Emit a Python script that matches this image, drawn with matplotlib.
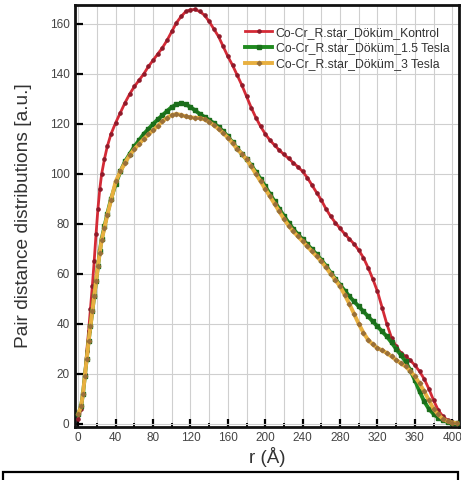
import numpy as np
import matplotlib
matplotlib.use('Agg')
import matplotlib.pyplot as plt
from matplotlib.patches import Rectangle

plt.rcParams['font.family'] = ['Liberation Sans', 'DejaVu Sans']

# Pair distance distributions, r in Angstrom

r_kontrol = [0, 3, 5, 7, 9, 11, 13, 15, 17, 19, 21, 23, 25, 28, 31, 35, 40, 45, 50, 55,
             60, 65, 70, 75, 80, 85, 90, 95, 100, 105, 110, 115, 120, 125, 130, 135, 140, 145,
             150, 155, 160, 165, 170, 175, 180, 185, 190, 195, 200, 205, 210, 215, 220, 225,
             230, 235, 240, 245, 250, 255, 260, 265, 270, 275, 280, 285, 290, 295, 300, 305,
             310, 315, 320, 325, 330, 335, 340, 345, 350, 355, 360, 365, 370, 375, 380, 385,
             390, 395, 400, 405]
p_kontrol = [2, 6, 12, 20, 29, 37, 46, 55, 65, 76, 86, 94, 100, 106, 111, 116, 120.5, 124.5, 128.5, 132,
             135, 137.5, 140, 143, 145.5, 148, 150.5, 153.5, 157, 160.5, 163, 165, 165.7, 165.8, 165, 163.5, 161, 158,
             155, 151, 147, 143.5, 139.5, 135.5, 131, 126.5, 122.5, 119, 116, 113.5, 111.5, 109.5, 107.8, 106.2,
             104.5, 102.8, 101, 98.5, 95.5, 92.5, 89.5, 86, 83, 80.5, 78.2, 76, 74, 72, 69.5, 66.5,
             62.5, 58, 53, 46.5, 40, 34.5, 31, 28.5, 27, 25.5, 23.5, 21, 18, 14, 9.5, 5.5,
             3, 1.5, 0.8, 0.5]

r_15 = [0, 3, 5, 7, 9, 11, 13, 15, 17, 19, 21, 23, 25, 28, 31, 35, 40, 45, 50, 55,
        60, 65, 70, 75, 80, 85, 90, 95, 100, 105, 110, 115, 120, 125, 130, 135, 140, 145,
        150, 155, 160, 165, 170, 175, 180, 185, 190, 195, 200, 205, 210, 215, 220, 225,
        230, 235, 240, 245, 250, 255, 260, 265, 270, 275, 280, 285, 290, 295, 300, 305,
        310, 315, 320, 325, 330, 335, 340, 345, 350, 355, 360, 365, 370, 375, 380, 385,
        390, 395, 400, 405]
p_15 = [4, 7, 12, 19, 26, 33, 39, 45, 51, 57, 63, 69, 74, 79, 84, 90, 96, 101, 105, 108,
        111, 113.5, 116, 118, 120, 121.8, 123.5, 125.2, 126.8, 127.8, 128.2, 127.8, 126.8, 125.4, 124, 122.8, 121.6, 120.3,
        118.8, 117, 115, 112.6, 110.2, 108, 105.8, 103.4, 100.8, 98, 95, 92, 89, 86, 83.2, 80.5,
        78, 75.8, 73.8, 71.8, 69.8, 67.8, 65.6, 63.2, 60.5, 58, 55.6, 53.3, 51, 49, 47, 45,
        43, 41, 39, 37, 35, 32.6, 30, 27.6, 25, 21.5, 17.5, 13, 9, 6, 4, 2.5,
        1.5, 0.8, 0.5, 0.3]

r_3 = [0, 3, 5, 7, 9, 11, 13, 15, 17, 19, 21, 23, 25, 28, 31, 35, 40, 45, 50, 55,
       60, 65, 70, 75, 80, 85, 90, 95, 100, 105, 110, 115, 120, 125, 130, 135, 140, 145,
       150, 155, 160, 165, 170, 175, 180, 185, 190, 195, 200, 205, 210, 215, 220, 225,
       230, 235, 240, 245, 250, 255, 260, 265, 270, 275, 280, 285, 290, 295, 300, 305,
       310, 315, 320, 325, 330, 335, 340, 345, 350, 355, 360, 365, 370, 375, 380, 385,
       390, 395, 400, 405]
p_3 = [4, 7, 12, 19, 26, 33, 39, 45, 51, 57, 63, 68.5, 73.5, 78.5, 83.5, 89.5, 97, 101, 104.5, 107.5,
       110, 112, 114, 115.8, 117.5, 119.3, 121, 122.5, 123.6, 124, 123.6, 123, 122.6, 122.5, 122.4, 121.8, 120.8, 119.5,
       118, 116.4, 114.5, 112.3, 110, 108, 105.8, 103, 100, 97, 94, 91, 88, 85, 82, 79.3,
       77, 75, 73, 71, 69, 67, 65, 62.6, 60, 57.6, 55, 51.6, 48, 44, 40, 36.5,
       33.6, 31.8, 30.4, 29.4, 28.4, 27, 25.6, 24.3, 23, 21.2, 19, 16.2, 13, 9.5, 6, 3.8,
       2, 1, 0.5, 0.3]

labels = ['Co-Cr_R.star_Döküm_Kontrol', 'Co-Cr_R.star_Döküm_1.5 Tesla', 'Co-Cr_R.star_Döküm_3 Tesla']

fig = plt.figure(figsize=(4.61, 4.80), dpi=100)
ax = fig.add_axes([0.1627, 0.111, 0.834, 0.8786])

ax.plot(r_kontrol, p_kontrol, '-', color='#d42a36', lw=2.0, marker='o', ms=2.3,
        mfc='#8e1a2a', mec='#8e1a2a', label=labels[0], zorder=3)
ax.plot(r_15, p_15, '-', color='#1f8a1f', lw=2.8, marker='s', ms=2.3,
        mfc='#1b6e1b', mec='#1b6e1b', label=labels[1], zorder=4)
ax.plot(r_3, p_3, '-', color='#e8b040', lw=2.8, marker='D', ms=2.3,
        mfc='#9a7038', mec='#9a7038', label=labels[2], zorder=5)

ax.set_xlim(-3.5, 407.7)
ax.set_ylim(-1.1, 167.6)
ax.set_xticks(np.arange(0, 401, 40))
ax.set_xticks(np.arange(20, 401, 40), minor=True)
ax.set_yticks(np.arange(0, 161, 20))

ax.grid(True, which='major', color='#cfcfcf', lw=0.8)
ax.grid(True, which='minor', axis='x', color='#cfcfcf', lw=0.8)
ax.set_axisbelow(True)

ax.tick_params(which='major', direction='in', length=6, width=1.6, labelsize=8.5,
               labelcolor='#444444', pad=4)
ax.tick_params(which='minor', direction='in', length=3, width=1.4)
ax.tick_params(axis='y', which='minor', left=False)

for s in ax.spines.values():
    s.set_linewidth(2)
    s.set_color('#111111')

ax.set_ylabel('Pair distance distributions [a.u.]', fontsize=13.8, color='#333333', labelpad=13)
ax.set_xlabel('r (Å)', fontsize=13.5, color='#333333', labelpad=2)

lgd = ax.legend(loc='upper left', bbox_to_anchor=(0.43, 0.96), frameon=False, fontsize=8.8,
                handlelength=2.2, handletextpad=0.3, labelspacing=0.3, borderaxespad=0.0)
for t in lgd.get_texts():
    t.set_color('#333333')

# empty box along the bottom edge
fig.patches.append(Rectangle((3 / 461, -0.05), 455 / 461, 0.0667, transform=fig.transFigure,
                             fill=False, lw=1.6, ec='black'))

fig.savefig('out.png', dpi=100)
